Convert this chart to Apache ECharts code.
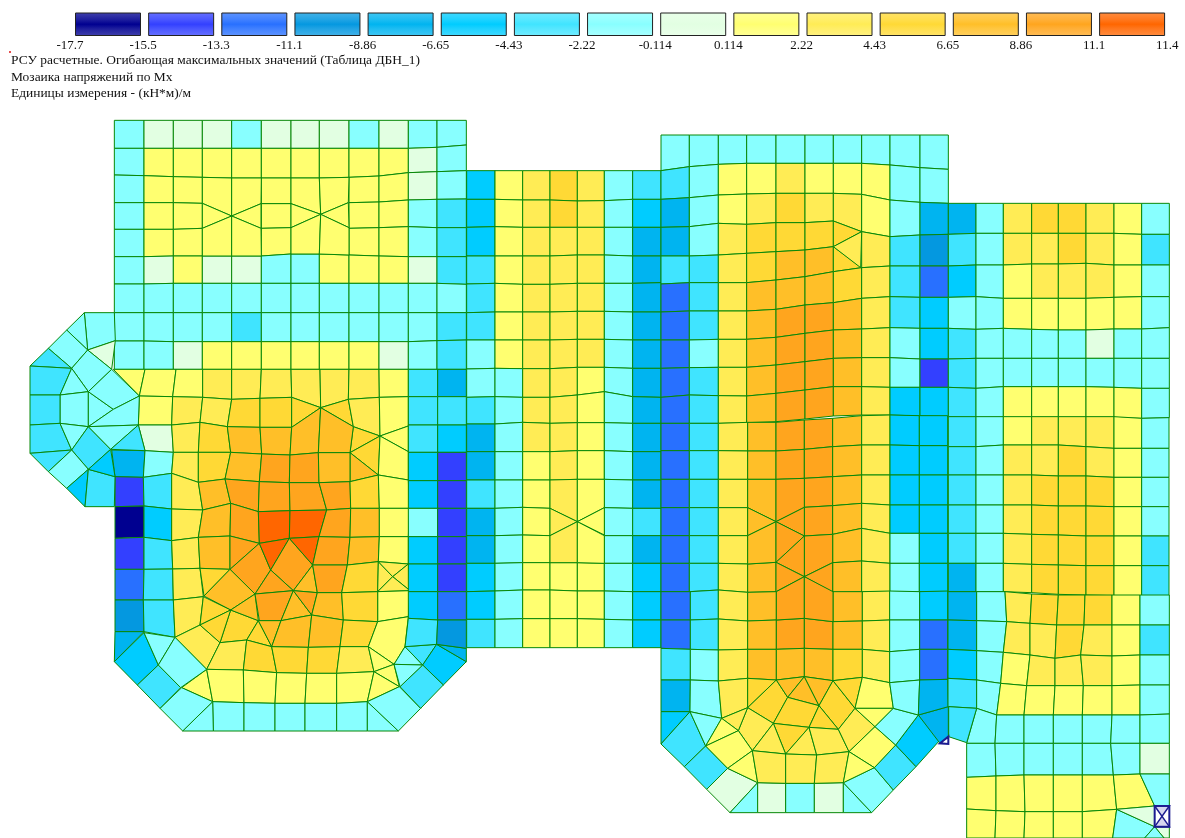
<!DOCTYPE html>
<html>
<head>
<meta charset="utf-8">
<style>html,body{margin:0;padding:0;background:#fff}#c{width:1185px;height:838px}</style>
<script src="https://cdn.jsdelivr.net/npm/echarts@6/dist/echarts.min.js"></script>
</head>
<body>
<div id="c"></div>
<script>
// Scale labels and the band colours between them
const legendBreaks = ['-17.7','-15.5','-13.3','-11.1','-8.86','-6.65','-4.43','-2.22','-0.114','0.114','2.22','4.43','6.65','8.86','11.1','11.4'];
const bandColors = ['#000090','#3340ff','#2870ff','#0498e0','#00b4f0','#00ccff','#40e4ff','#88ffff','#e2ffe2','#ffff70','#ffec55','#ffd935','#ffbf28','#ffa51e','#ff6600'];
const titleLines = ['РСУ расчетные. Огибающая максимальных значений (Таблица ДБН_1)','Мозаика напряжений по Mx','Единицы измерения - (кН*м)/м'];

// Mesh: band codes per element (hex digit = index of the band), over the plate's node lines
const plateUpperBands = ['788878887877','799999999987','799..9..9987','799..9..9976','799..9..9976','789887799986','777777777777','777767777776','778999999876'];
const plateUpperX = [283,372,460,547,635,724,813,898,987,1077,1165,1251,1339];
const plateUpperY = [
 [31,31,31,31,31,31,31,31,31,31,31,31,31],
 [115,115,115,115,115,115,115,115,115,115,115,112,105],
 [195,197,200,202,204,204,204,204,202,198,188,185,182],
 [278,278,278,280,281,281,281,279,278,276,270,268,267],
 [358,358,358,355,355,355,353,353,355,353,350,353,353],
 [440,440,438,438,438,438,432,432,435,438,440,440,440],
 [522,522,520,520,520,520,520,520,520,520,520,520,523],
 [608,608,608,608,608,608,608,608,608,608,608,608,608],
 [693,693,695,695,695,695,695,695,695,695,695,692,690],
 [778,778,778,778,778,778,778,778,778,778,778,778,778]];
const plateUpperExtra = [
 '9 547,202 635,204 635,318 547,280','9 635,204 724,204 723,281 635,318','9 547,280 635,318 547,355','9 723,281 723,355 635,318',
 '9 547,355 635,318 635,438 547,438','9 635,318 723,355 724,438 635,438',
 '9 813,204 898,204 902,313 813,281','9 898,204 987,202 985,278 902,313','9 813,281 902,313 813,353','9 985,278 987,353 902,313',
 '9 813,353 902,313 898,432 813,432','9 902,313 987,353 987,435 898,432'];

const plateLower = [
 '9 280,-152 375,-152 358,-72','9 375,-152 468,-152 458,-70 358,-72','9 468,-152 548,-152 548,-68 458,-70',
 'a 548,-152 635,-152 635,-62 548,-68','a 635,-152 724,-152 720,-65 635,-62','a 724,-152 813,-152 815,-68 720,-65',
 'a 813,-152 900,-152 902,-37 815,-68','a 900,-152 987,-152 985,-62 902,-37','a 987,-152 1077,-152 1078,-68 985,-62','9 1077,-152 1165,-152 1165,-70 1078,-68',
 '9 358,-72 458,-70 455,15 355,15','a 458,-70 548,-68 540,7 455,15','a 548,-68 635,-62 622,20 540,7','b 635,-62 720,-65 720,22 622,20','b 720,-65 815,-68 815,22 720,22',
 'b 815,-68 902,-37 815,22','b 902,-37 985,-62 1000,20',
 'a 985,-62 1078,-68 1080,48 1000,20','9 1078,-68 1165,-70 1165,18 1080,48','b 1000,20 1080,48 990,98','b 990,98 1080,48 1075,165','c 990,98 1075,165 990,185',
 '9 1080,48 1165,18 1165,95','9 1080,48 1165,95 1165,180 1075,165',
 '8 355,15 455,15 460,97 375,92','a 455,15 540,7 535,97 460,97','b 540,7 622,20 632,97 535,97','c 622,20 720,22 725,102 632,97','c 720,22 815,22 810,105 725,102',
 'c 815,22 902,-37 895,98 810,105','c 902,-37 1000,20 990,98 895,98',
 '4 275,90 375,92 370,172 285,170','7 375,92 460,97 455,160 370,172','a 460,97 535,97 535,187 455,160','b 535,97 632,97 615,177 535,187','c 632,97 725,102 718,185 615,177',
 'd 725,102 810,105 808,188 718,185','d 810,105 895,98 897,188 808,188','c 895,98 990,98 990,185 897,188',
 '1 285,170 370,172 372,258 285,260','6 370,172 455,160 455,267 372,258','a 455,160 535,187 548,270 455,267','c 535,187 615,177 632,250 548,270','d 615,177 718,185 715,275 632,250',
 'd 718,185 808,188 810,272 715,275','d 808,188 897,188 920,270 810,272','d 897,188 990,185 992,265 920,270','b 990,185 1075,165 1078,265 992,265','9 1075,165 1165,180 1168,265 1078,265',
 '0 285,260 372,258 372,352 285,355','5 372,258 455,267 455,362 372,352','a 455,267 548,270 535,352 455,362','c 548,270 632,250 630,348 535,352','d 632,250 715,275 718,370 630,348',
 'e 715,275 810,272 808,355 718,370','e 810,272 920,270 897,350 808,355','d 920,270 992,265 990,352 897,350','c 992,265 1078,265 1078,350 990,352','9 1078,265 1168,265 1165,350 1078,350',
 '1 285,355 372,352 372,448 285,448','6 372,352 455,362 458,447 372,448','a 455,362 535,352 540,445 458,447','c 535,352 630,348 630,448 540,445',
 'd 630,348 718,370 630,448','d 718,370 752,450 705,522 630,448','e 718,370 808,355 752,450','d 808,355 878,435 820,512 752,450','e 808,355 897,350 878,435',
 'd 897,350 990,352 982,435 878,435','c 990,352 1078,350 1075,425 982,435','9 1078,350 1165,350 1165,432 1075,425',
 '2 285,448 372,448 370,540 285,540','6 372,448 458,447 460,540 370,540','a 458,447 540,445 550,530 460,540','b 540,445 630,448 552,528','c 630,448 705,522 632,570 552,528',
 'd 752,450 820,512 705,522','c 878,435 892,518 820,512','d 878,435 982,435 965,518 892,518','b 982,435 1075,425 1073,515 965,518',
 'a 1075,425 1118,470 1073,515','a 1075,425 1165,432 1118,470','a 1165,432 1170,512 1118,470','a 1118,470 1170,512 1073,515',
 '9 1073,515 1170,512 1165,590 1073,605',
 '3 285,540 370,540 372,635 285,635','6 370,540 460,540 465,652 372,635','a 460,540 550,530 540,615 465,652','b 550,530 632,570 540,615','b 632,570 715,602 680,660 600,668',
 'a 540,615 600,668 560,748 465,652','b 540,615 632,570 600,668','c 632,570 705,522 715,602','d 705,522 820,512 783,602 718,602','c 820,512 875,585 783,602','d 820,512 892,518 875,585',
 'c 892,518 965,518 970,600 875,585','b 965,518 1073,515 1073,605 970,600',
 'b 715,602 755,680 680,660','c 715,602 783,602 755,680','c 783,602 875,585 865,682 755,680','c 875,585 970,600 960,680 865,682','b 970,600 1073,605 1045,680 960,680',
 '9 1073,605 1165,590 1155,680 1122,733 1045,680',
 'a 600,668 680,660 670,750 560,748','b 680,660 755,680 770,758 670,750','b 755,680 865,682 860,760 770,758','b 865,682 960,680 950,760 860,760','a 960,680 1045,680 1062,755 950,760',
 '9 1045,680 1122,733 1062,755','9 1062,755 1122,733 1138,800',
 '9 485,803 560,748 578,845','9 560,748 670,750 672,848 578,845','9 670,750 770,758 765,850 672,848','9 770,758 860,760 855,850 765,850','9 860,760 950,760 950,850 855,850',
 '9 950,760 1062,755 1042,845 950,850','9 1062,755 1138,800 1042,845',
 '7 578,845 672,848 672,933 580,933','7 672,848 765,850 765,933 672,933','7 765,850 855,850 855,933 765,933','7 855,850 950,850 950,933 855,933','7 950,850 1042,845 1042,933 950,933',
 '7 1042,845 1135,933 1042,933','7 578,845 580,933 488,933','7 485,803 578,845 488,933 420,865','7 1042,845 1138,800 1202,865 1135,933',
 '4 285,635 372,635 283,725','5 372,638 415,735 352,795 283,725','7 372,638 465,652 415,735','6 415,735 482,803 420,865 352,795','7 465,652 560,748 482,803 415,735',
 '7 1155,680 1208,735 1122,733','6 1155,680 1250,673 1208,735','5 1250,673 1339,725 1270,795 1208,735','6 1208,735 1270,795 1202,865 1140,800','7 1122,733 1208,735 1140,800','4 1250,673 1339,685 1339,725',
 // left wing
 '7 193,-322 283,-322 286,-238 203,-210','7 193,-322 203,-210 140,-270','7 140,-270 203,-210 155,-155 85,-215','6 85,-215 155,-155 30,-162','6 30,-162 155,-155 120,-75 30,-75',
 '8 203,-210 286,-238 275,-152','7 203,-210 275,-152 205,-85 155,-155','7 155,-155 205,-85 120,-75','7 120,-75 205,-85 205,20 120,10','7 205,-85 280,-32 205,20',
 '7 275,-152 358,-72 280,-32 205,-85','7 280,-32 358,-72 355,15 205,20','6 30,-75 120,-75 120,10 30,15',
 '6 30,15 120,10 155,90 30,100','7 120,10 205,20 155,90','6 205,20 272,88 205,148 155,90','7 205,20 355,15 272,88','6 355,15 375,92 272,88','6 30,100 155,90 85,155',
 '7 85,155 155,90 205,148 140,205','5 140,205 205,148 195,260','6 205,148 285,170 283,260 195,260','5 272,88 285,170 205,148'];
const plateSideBands = ['64','66','65','51','51','71','51','51','52','63'];
const plateSideX = [[1165,1253,1339],[1165,1253,1339],[1165,1253,1339],[1165,1253,1339],[1165,1253,1339],[1165,1253,1339],[1165,1253,1339],[1165,1253,1339],[1165,1253,1339],[1165,1253,1339],[1155,1250,1339]];
const plateSideY = [[-152,-152,-152],[-70,-70,-70],[15,15,15],[97,97,97],[182,182,182],[265,265,265],[350,350,350],[432,432,432],[515,515,515],[595,600,600],[680,673,685]];

const middleBands = ['59aba76','59aba75','59aaa74','69aaa74','69aaa74','69aaa74','79aaa74','77aa974','67aa974','47aa974','479a974','679..74','479..76','479..74','5799975','5799975','6799975'];
const middleX = [20,105,188,270,352,433,518,603];
const middleY = [
 [122,122,122,122,122,122,122,122],[208,208,210,210,213,212,208,208],[292,290,292,292,292,292,292,292],[378,378,378,378,375,375,378,378],
 [462,460,463,463,460,460,460,458],[548,546,546,546,544,544,546,546],[630,630,630,630,628,628,630,630],[717,715,716,716,712,712,715,715],
 [802,800,802,802,795,785,800,802],[882,882,877,880,878,878,880,880],[965,965,965,965,962,962,965,965],[1050,1050,1050,1050,1048,1048,1050,1050],
 [1135,1135,1132,1135,1133,1133,1135,1135],[1217,1217,1215,1217,1215,1217,1217,1217],[1300,1300,1298,1298,1298,1300,1300,1300],[1385,1383,1380,1380,1383,1383,1385,1385],
 [1468,1468,1466,1466,1466,1468,1470,1470],[1553,1553,1553,1553,1553,1553,1553,1553]];
const middleExtra = ['a 270,1050 352,1048 352,1175 270,1135','9 352,1048 433,1048 433,1133 352,1175','a 270,1135 352,1175 270,1217','9 433,1133 433,1215 352,1175','a 270,1217 352,1175 352,1298 270,1298','9 352,1175 433,1217 433,1300 352,1298'];

const coreUpperBands = ['7777777777','6799a99977','479abaa974','47abbb.a63','66abccb...','26acccba62','26acddca65','27acddca75','26acddca71','26acddca55'];
const coreUpperX = [-237,-152,-65,20,108,195,280,365,450,540,625];
const coreUpperY = [
 [15,15,15,15,15,15,15,15,15,15,15],[122,110,103,100,100,100,100,100,105,113,118],[208,203,195,192,190,190,190,193,210,217,220],
 [292,290,280,283,278,278,273,305,320,315,313],[378,378,375,370,365,360,350,413,408,408,408],[462,458,458,458,450,440,425,413,408,408,408],
 [546,543,543,543,538,525,518,505,500,502,502],[630,630,628,628,622,610,600,597,593,595,595],[715,713,712,712,705,695,685,683,683,687,687],
 [802,795,797,798,790,780,770,770,772,772,772],[880,880,880,878,875,867,858,855,855,858,860]];
const coreUpperExtra = ['b 280,273 365,305 280,350','a 280,350 365,305 362,413'];

const coreMiddleBands = ['26acddca55','26acddca55','26a..dca55','26a..dca55','26a...ca75','26ac..ca75'];
const coreMiddleX = [3,88,175,263,348,433,518,605,690,778,863];
const coreMiddleY = [
 [70,70,70,67,67,60,55,47,45,47,47],[152,152,152,153,153,148,140,135,135,137,137],[238,238,238,238,238,235,230,225,225,225,225],
 [323,323,323,323,323,322,317,310,315,315,315],[407,407,407,407,407,408,403,385,400,400,400],[490,490,490,492,487,487,488,483,490,490,490],
 [575,575,570,577,575,575,577,575,575,575,575]];
const coreMiddleExtra = [
 'c 263,238 348,238 348,365 263,323','d 348,238 433,235 433,322 348,365','c 263,323 348,365 263,407','d 433,322 433,408 348,365','c 263,407 348,365 348,487 263,492',
 'd 348,365 433,408 348,487','d 433,408 518,403 518,488 433,530','d 348,487 433,408 433,530','d 348,487 433,530 348,575','d 433,530 518,488 518,577'];

const coreLowerBands = ['26ac..ca75','26acddca72','67acccba72'];
const coreLowerX = [18,106,190,278,364,448,534,622,704,794,878];
const coreLowerY = [
 [-145,-145,-150,-143,-145,-145,-145,-145,-147,-145,-147],[-60,-60,-63,-57,-60,-65,-55,-57,-60,-60,-60],
 [25,28,30,28,28,25,28,28,35,28,28],[120,120,123,115,120,110,122,112,128,120,118]];
const coreFan = [
 'd 364,-145 448,-190 448,-65 364,-60','d 448,-190 534,-145 534,-55 448,-65',
 '4 18,120 106,120 105,215 18,215','7 106,120 190,123 200,235 105,215','5 18,215 105,215 18,312','6 18,312 105,215 152,318 88,380','7 105,215 200,235 152,318',
 '6 88,380 152,318 218,385 155,448','8 155,448 218,385 308,428 225,518','7 225,518 308,428 308,518','8 308,428 392,430 392,518 308,518','7 392,430 478,430 478,518 392,518',
 '8 478,430 565,428 565,518 478,518','7 565,428 650,518 565,518','7 565,428 658,383 715,450 650,518','6 658,383 722,315 783,380 715,450','5 722,315 790,225 855,300 783,380',
 '4 790,225 880,200 880,290 855,310','a 190,123 278,115 278,203 200,235','b 278,115 364,120 278,203','b 364,120 398,172 355,250 278,203','c 364,120 448,110 398,172','c 448,110 492,197 398,172',
 'c 448,110 534,122 492,197','b 534,122 600,205 550,268 492,197','b 534,122 622,112 600,205','9 622,112 704,128 715,205 600,205','b 398,172 492,197 462,262 355,250','b 492,197 550,268 462,262',
 'b 355,250 462,262 392,342','a 278,203 355,250 292,332 250,272','a 200,235 278,203 250,272','9 200,235 250,272 152,318','9 152,318 250,272 292,332 218,385','9 218,385 292,332 308,428',
 'a 355,250 392,342 292,332','a 292,332 392,342 392,430 308,428','a 392,342 462,262 485,345','a 392,342 485,345 478,430 392,430','a 462,262 550,268 582,335 485,345','a 485,345 582,335 565,428 478,430',
 'a 600,205 660,260 582,335 550,268','9 600,205 715,205 660,260','9 660,260 722,315 658,383 582,335','9 582,335 658,383 565,428','7 715,205 790,225 722,315 660,260','7 704,128 794,120 790,225 715,205','4 794,120 878,118 880,200 790,225',
 '6 880,118 968,125 965,205 880,200'];

const eastUpperBands = ['47abba97','67aaba96','579aaa97','77999997','67777877','67777777','67999997'];
const eastUpperX = [625,708,790,875,955,1038,1122,1205,1288];
const eastUpperY = [
 [220,220,220,220,220,220,220,220,220],[313,310,310,310,310,310,310,313,313],[408,405,405,402,402,400,405,405,405],[502,500,505,505,505,505,502,500,500],
 [595,598,595,598,600,600,597,597,593],[687,685,685,685,685,685,685,685,685],[772,775,770,770,770,770,772,775,775],[860,862,862,862,862,862,862,865,863]];

const eastMiddleBands = ['679aaa97','67aaba97','67abbb97','67abbb97','67abbb96','47abbb96'];
const eastMiddleX = [25,108,190,275,355,438,522,605,687];
const eastMiddleY = [
 [50,50,50,50,50,50,50,55,53],[140,140,135,135,135,140,145,145,145],[225,225,225,225,228,228,232,232,232],[315,315,315,315,318,318,320,320,320],
 [400,400,400,403,405,408,408,408,408],[490,490,490,493,495,497,497,497,497],[575,575,575,578,583,585,587,587,587]];

const eastLowerBands = ['47abbb97','47aaba96','579aaa97','67999997'];
const eastLowerX = [[-36,50,135,215,295,375,456,540,628],[-36,50,140,210,290,372,456,540,628],[-36,50,130,210,285,362,456,540,628],[-36,50,122,200,285,370,456,540,628],[-36,50,110,192,280,367,456,540,628]];
const eastLowerY = [[5,5,5,12,15,15,15,15,15],[90,92,95,100,105,105,105,105,105],[178,182,187,195,205,195,198,195,195],[265,270,280,287,287,287,287,285,285],[350,355,375,375,375,375,375,375,372]];
const eastFootBands = ['7777777','7777778','99999..','99999..'];
const eastFootX = [[50,110,192,280,367,456,540,628],[20,105,192,280,367,452,540,628],[20,108,192,280,367,460,540,628],[20,108,195,280,367,470,584,628],[20,105,192,280,367,458,554,628]];
const eastFootY = [[355,375,375,375,375,375,375,372],[460,460,460,460,460,460,460,460],[562,558,555,555,555,555,552,552],[657,662,665,665,665,658,648,648],[744,744,744,744,744,744,744,744]];
const eastExtra = ['6 -34,350 50,355 20,458 -34,440','9 460,555 540,552 584,648 470,658','7 540,552 628,552 628,648 584,648','7 470,658 584,710 554,744 458,744','8 470,658 584,648 584,710','8 584,710 628,710 628,744 612,744','7 584,710 612,744 554,744'];

// Elements flagged by the program (navy outline)
const flagged = [{f:[655,640],p:'855,310 880,290 880,312'},{f:[960,590],p:'584,648 628,648 628,710 584,710'},{f:[960,590],p:'584,648 628,648 584,710 628,710'}];

// ---- build mesh ----
const cells = [];
const frame = (o) => (p) => [o[0] + p[0] / 3, o[1] + p[1] / 3];
const pairs = (s) => s.trim().split(/\s+/).map(t => t.split(',').map(Number));
function polys(list, o){
  const f = frame(o);
  list.forEach(s => {const i = s.indexOf(' '); cells.push({band: parseInt(s.slice(0,i),16), pts: pairs(s.slice(i+1)).map(f)});});
}
function grid(xs, ys, bands, o){
  const f = frame(o);
  const X = (r,c) => Array.isArray(xs[0]) ? xs[r][c] : xs[c];
  bands.forEach((row,r) => {
    [...row].forEach((ch,c) => {
      if (ch === '.') return;
      cells.push({band: parseInt(ch,16), pts: [[X(r,c),ys[r][c]],[X(r,c+1),ys[r][c+1]],[X(r+1,c+1),ys[r+1][c+1]],[X(r+1,c),ys[r+1][c]]].map(f)});
    });
  });
}
grid(plateUpperX, plateUpperY, plateUpperBands, [20,110]);
polys(plateUpperExtra, [20,110]);
polys(plateLower, [20,420]);
grid(plateSideX, plateSideY, plateSideBands, [20,420]);
grid(middleX, middleY, middleBands, [460,130]);
polys(middleExtra, [460,130]);
grid(coreUpperX, coreUpperY, coreUpperBands, [740,130]);
polys(coreUpperExtra, [740,130]);
grid(coreMiddleX, coreMiddleY, coreMiddleBands, [660,400]);
polys(coreMiddleExtra, [660,400]);
grid(coreLowerX, coreLowerY, coreLowerBands, [655,640]);
polys(coreFan, [655,640]);
grid(eastUpperX, eastUpperY, eastUpperBands, [740,130]);
grid(eastMiddleX, eastMiddleY, eastMiddleBands, [940,400]);
grid(eastLowerX, eastLowerY, eastLowerBands, [960,590]);
grid(eastFootX, eastFootY, eastFootBands, [960,590]);
polys(eastExtra, [960,590]);
const flaggedCells = flagged.map(e => ({pts: pairs(e.p).map(frame(e.f))}));

const serif = '"Liberation Serif","Times New Roman",serif';
const meshStroke = '#088808';
const tint = (hex, k) => {
  const n = parseInt(hex.slice(1),16), m = (v) => Math.round(v + (255 - v) * k);
  return 'rgb(' + m(n>>16&255) + ',' + m(n>>8&255) + ',' + m(n&255) + ')';
};
const poly = (api, pts) => pts.map(p => api.coord(p));

const chart = echarts.init(document.getElementById('c'), null, {renderer:'canvas'});
chart.setOption({
  animation:false,
  backgroundColor:'#fff',
  grid:{left:0,right:0,top:0,bottom:0},
  xAxis:{type:'value',min:0,max:1185,show:false},
  yAxis:{type:'value',min:0,max:838,inverse:true,show:false},
  title: titleLines.map((t,i) => ({text:t,left:11,top:54 + i*16.6,padding:0,textStyle:{fontFamily:serif,fontSize:13.45,fontWeight:'normal',color:'#111'}})),
  series:[
    {type:'custom',name:'Mx',silent:true,clip:false,
     data:cells.map((c,i)=>[c.pts[0][0],c.pts[0][1],c.band]),
     renderItem:(p,api)=>{const c=cells[p.dataIndex];return {type:'polygon',shape:{points:poly(api,c.pts)},style:{fill:bandColors[c.band],stroke:meshStroke,lineWidth:1}};}},
    {type:'custom',name:'flagged',silent:true,clip:false,
     data:flaggedCells.map(c=>[c.pts[0][0],c.pts[0][1]]),
     renderItem:(p,api)=>{const c=flaggedCells[p.dataIndex];return {type:'polygon',shape:{points:poly(api,c.pts)},style:{fill:p.dataIndex===2?'rgba(90,90,190,0.25)':'#fff',stroke:'#1c1c90',lineWidth:p.dataIndex===2?1.5:2}};}},
    {type:'custom',name:'scale',silent:true,clip:false,
     data:bandColors.map((c,i)=>[75.5+i*73.15,13]),
     renderItem:(p,api)=>{
       const a=api.coord([api.value(0),api.value(1)]), col=bandColors[p.dataIndex];
       return {type:'rect',shape:{x:a[0],y:a[1],width:65,height:22.5},style:{
         fill:new echarts.graphic.LinearGradient(0,0,0,1,[{offset:0,color:tint(col,.25)},{offset:.3,color:tint(col,.12)},{offset:.5,color:col},{offset:.7,color:tint(col,.12)},{offset:1,color:tint(col,.25)}]),
         stroke:'#222',lineWidth:1}};
     }},
    {type:'custom',name:'scaleLabels',silent:true,clip:false,
     data:legendBreaks.map((t,i)=>[70+i*73.15,46]),
     renderItem:(p,api)=>{const a=api.coord([api.value(0),api.value(1)]);return {type:'text',style:{x:a[0],y:a[1],text:legendBreaks[p.dataIndex],align:'center',verticalAlign:'middle',fontFamily:serif,fontSize:13,fill:'#111'}};}},
    {type:'scatter',name:'marker',silent:true,symbol:'rect',symbolSize:2,itemStyle:{color:'#e02020'},data:[[10,52]]}
  ]
});
</script>
</body>
</html>
